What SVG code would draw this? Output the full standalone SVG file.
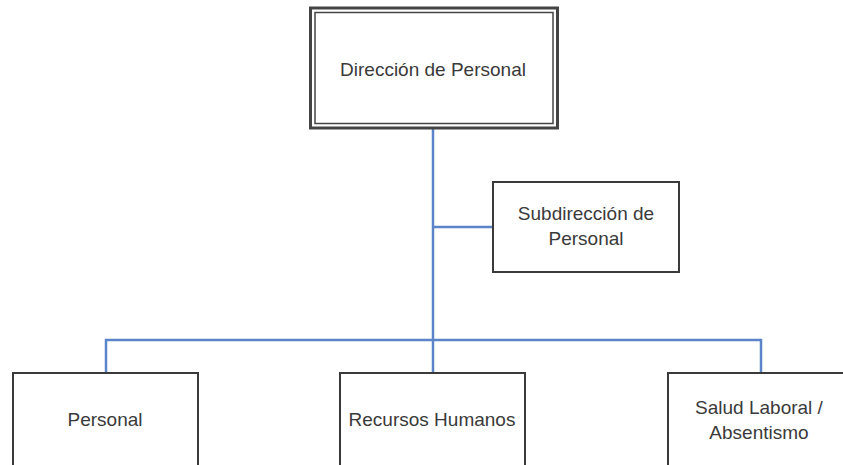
<svg xmlns="http://www.w3.org/2000/svg" width="843" height="465" viewBox="0 0 843 465">
<style>
.box{fill:#fff;stroke:#3a3a3a;stroke-width:2}
.t{font-family:"Liberation Sans",Arial,sans-serif;font-size:19px;fill:#3a3a3a;text-anchor:middle}
.c{fill:none;stroke:#5b84c9;stroke-width:2.5}
</style>
<rect width="843" height="465" fill="#fff"/>
<g id="connectors">
<path class="c" d="M433 128V340"/>
<path class="c" d="M433 227H493"/>
<path class="c" d="M106 373V340H761V373"/>
<path class="c" d="M433 340V373"/>
</g>
<g id="direccion">
<rect x="310.5" y="8" width="247" height="120" fill="#fff" stroke="#444" stroke-width="3"/>
<rect x="315" y="12.5" width="238" height="111" fill="none" stroke="#444" stroke-width="1.5"/>
<text class="t" x="433" y="76">Dirección de Personal</text>
</g>
<g id="subdireccion">
<rect class="box" x="493" y="182" width="186" height="90"/>
<text class="t" x="586" y="220">Subdirección de</text>
<text class="t" x="586" y="245">Personal</text>
</g>
<g id="personal">
<rect class="box" x="13" y="373" width="185" height="110"/>
<text class="t" x="105" y="426">Personal</text>
</g>
<g id="rrhh">
<rect class="box" x="340" y="373" width="185" height="110"/>
<text class="t" x="432" y="426">Recursos Humanos</text>
</g>
<g id="salud">
<rect class="box" x="668" y="373" width="185" height="110"/>
<text class="t" x="759" y="414">Salud Laboral /</text>
<text class="t" x="759" y="439">Absentismo</text>
</g>
</svg>
